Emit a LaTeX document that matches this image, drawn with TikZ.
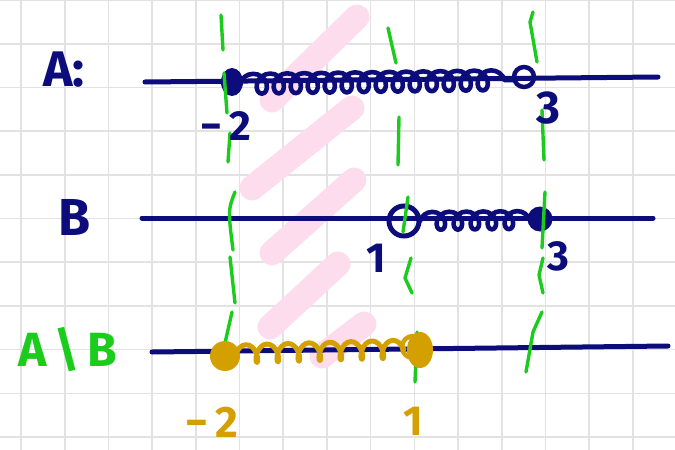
\documentclass[tikz,border=0pt]{standalone}
\usepackage{fontspec}
\setmainfont{Fira Sans}
\usetikzlibrary{decorations.pathmorphing}
\definecolor{ink}{RGB}{12,12,122}
\definecolor{marker}{RGB}{28,204,28}
\definecolor{ochre}{RGB}{212,160,0}
\definecolor{hilite}{RGB}{253,220,237}
\definecolor{gridgray}{RGB}{226,226,226}
\tikzset{
  gridline/.style={gridgray, line width=1.6},
  hatch/.style={hilite, line width=25, line cap=round},
  axis/.style={ink, line width=5, line cap=round},
  guide/.style={marker, line width=3.4, line cap=round, line join=round},
  spring/.style={line width=4.6, line cap=round, line join=round, decorate,
    decoration={coil, amplitude=#1, segment length=17, aspect=0.9}},
  label/.style={inner sep=0pt, font=\bfseries\fontsize{#1}{#1}\selectfont},
}
\begin{document}
\begin{tikzpicture}[x=1pt, y=-1pt]
\useasboundingbox (0,0) rectangle (675,450);
\fill[white] (0,0) rectangle (675,450);

% squared paper
\foreach \k in {0,...,15} \draw[gridline] ({21+43.7*\k},0) -- ({21+43.7*\k},450);
\foreach \k in {0,...,10} \draw[gridline] (0,{43.7*\k}) -- (675,{43.7*\k});

% pink shading strokes
\draw[hatch] (272,100) -- (357,17);
\draw[hatch] (252,188) -- (352,108);
\draw[hatch] (272,253) -- (354,180);
\draw[hatch] (270,327) -- (338,264);
\draw[hatch] (322,356) -- (364,324);

% number line A: [-2, 3)
\coordinate (a0) at (145,82);
\coordinate (a1) at (658,77);
\draw[axis] (a0) -- (a1);
\coordinate (am2) at (232,82);
\coordinate (a3) at (524,77);
\draw[ink, spring=10] (240,84) -- (514,80);
\fill[ink] (am2) ellipse [x radius=11pt, y radius=14pt];
\draw[ink, line width=4.5] (a3) circle [radius=10pt];

% number line B: (1, 3]
\coordinate (b0) at (142,218);
\coordinate (b1) at (653,218);
\draw[axis] (b0) -- (b1);
\coordinate (b1p) at (404,221);
\coordinate (b3) at (540,219);
\draw[ink, spring=9] (420,221) -- (530,220);
\draw[ink, line width=5] (b1p) circle [radius=15pt];
\fill[ink] (b3) circle [radius=12.5pt];

% number line A \ B
\coordinate (c0) at (152,352);
\coordinate (c1) at (668,346);
\draw[axis] (c0) -- (c1);

% green dashed guides
\draw[guide] (221,15) -- (223,50);
\draw[guide] (224,73) -- (227,113);
\draw[guide] (230,133) -- (228,162);
\draw[guide] (235,192) .. controls (228,210) .. (233,250);
\draw[guide] (230,257) -- (235,303);
\draw[guide] (232,312) -- (225,343);
\draw[guide] (388,28) -- (396,63);
\draw[guide] (399,117) -- (398,165);
\draw[guide] (408,197) -- (403,232);
\draw[guide] (411,258) -- (405,278) -- (412,293);
\draw[guide] (417,332) -- (415,382);
\draw[guide] (533,12) -- (530,22) -- (537,62);
\draw[guide] (542,110) -- (544,160);
\draw[guide] (545,192) -- (542,248);
\draw[guide] (543,258) -- (539,275) -- (543,293);
\draw[guide] (542,312) -- (533,332) -- (526,372);

% result interval [-2, 1]
\coordinate (cm2) at (225,356);
\coordinate (c1p) at (420,350);
\draw[ochre, line width=5, line cap=round, line join=round, decorate,
  decoration={coil, amplitude=9, segment length=21, aspect=0.55}] (236,354) -- (404,349);
\draw[ochre, line width=4.5] (413,347) circle [radius=11pt];
\fill[ochre] (cm2) circle [radius=15pt];
\fill[ochre] (c1p) ellipse [x radius=13pt, y radius=18pt];

% labels
\node[label=50, ink] (labA) at (64,70) {A:};
\node[label=52, ink] (labB) at (75,217) {B};
\node[label=48, marker] (labAB) at (68,350) {A\,\textbackslash\,B};
\node[label=42, ink] (na2) at (226,126) {−\,2};
\node[label=46, ink] (na3) at (548,108) {3};
\node[label=42, ink] (nb1) at (376,258) {1};
\node[label=42, ink] (nb3) at (558,256) {3};
\node[label=44, ochre] (nc2) at (212,422) {−\,2};
\node[label=42, ochre] (nc1) at (413,421) {1};
\end{tikzpicture}
\end{document}
